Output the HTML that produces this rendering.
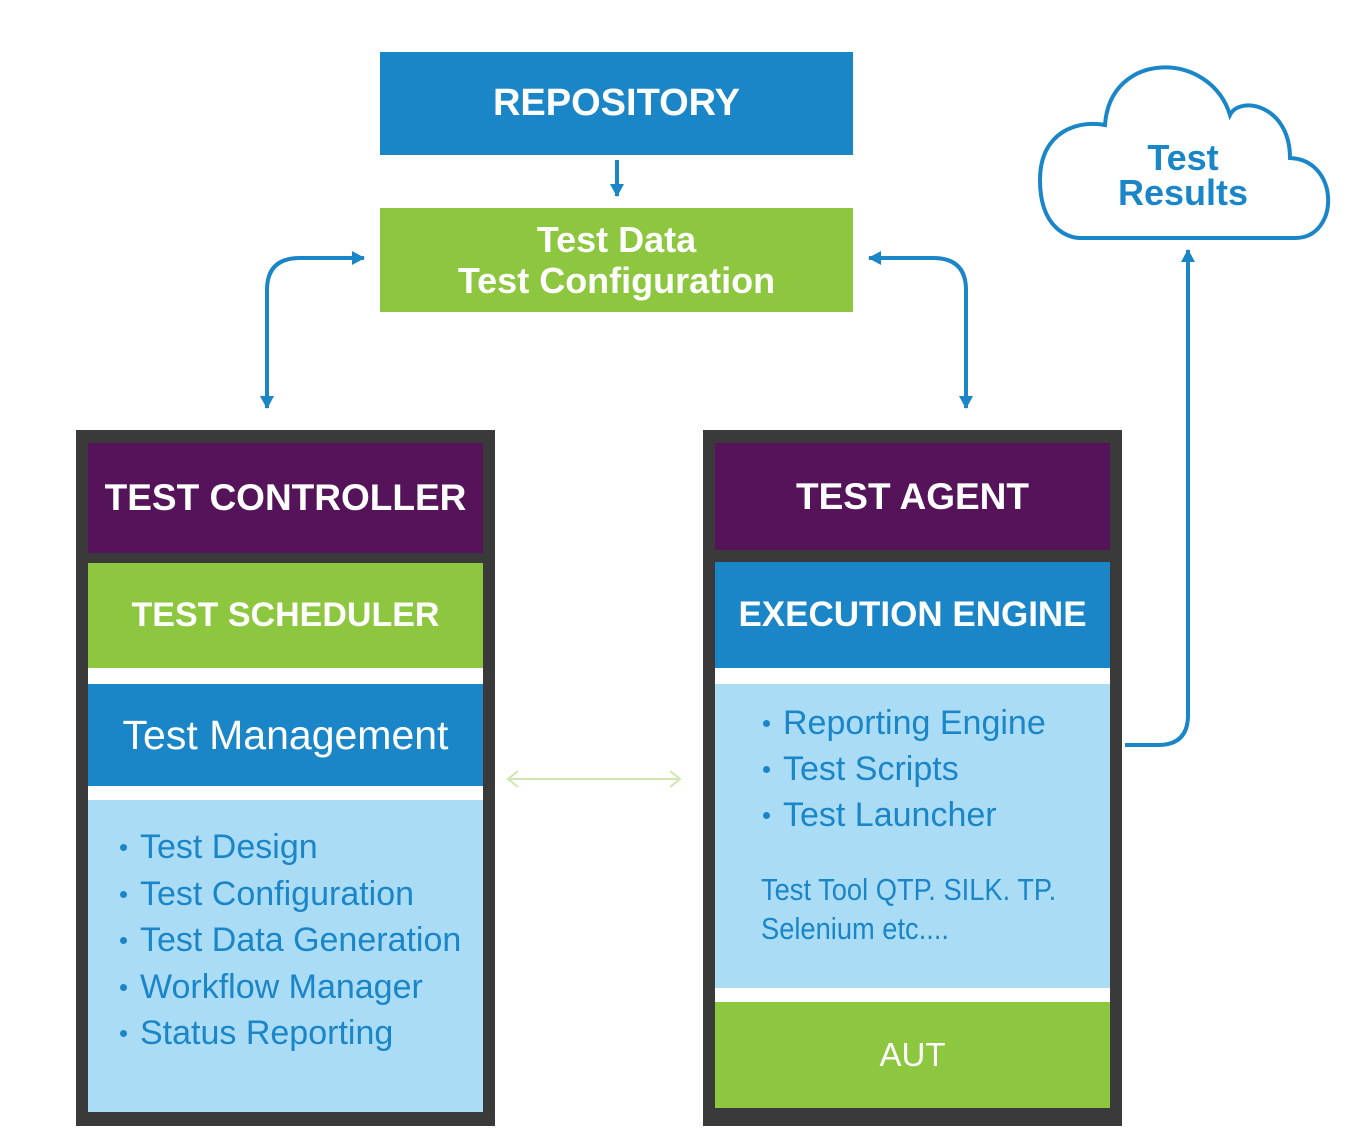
<!DOCTYPE html>
<html><head><meta charset="utf-8"><style>
body{margin:0;width:1366px;height:1146px;background:#fff;position:relative;overflow:hidden;font-family:"Liberation Sans",sans-serif}
.a{position:absolute;box-sizing:border-box}
.c{display:flex;align-items:center;justify-content:center;text-align:center;color:#fff;font-weight:bold;white-space:nowrap}
ul{margin:0;padding:0;list-style:none}
li{position:relative;padding-left:22px;color:#1a86c8;white-space:nowrap}
li:before{content:"";position:absolute;left:2px;top:50%;width:7px;height:7px;border-radius:50%;background:#1a86c8;margin-top:-3px}
</style></head><body>
<div class="a c" style="left:380px;top:52px;width:473px;height:103px;background:#1a86c8;font-size:38px">REPOSITORY</div>
<div class="a c" style="left:380px;top:208px;width:473px;height:104px;background:#8dc63f;font-size:36px;line-height:41px">Test Data<br>Test Configuration</div>

<div class="a" style="left:76px;top:430px;width:419px;height:696px;background:#3a3a3a"></div>
<div class="a c" style="left:88px;top:443px;width:395px;height:110px;background:#55145a;font-size:37px">TEST CONTROLLER</div>
<div class="a c" style="left:88px;top:563px;width:395px;height:105px;background:#8dc63f;font-size:34px">TEST SCHEDULER</div>
<div class="a" style="left:88px;top:668px;width:395px;height:444px;background:#fff"></div>
<div class="a c" style="left:88px;top:684px;width:395px;height:102px;background:#1a86c8;font-size:41px;font-weight:normal">Test Management</div>
<div class="a" style="left:88px;top:800px;width:395px;height:312px;background:#abdcf6;padding:24px 0 0 30px;font-size:34px;line-height:46.5px"><ul><li>Test Design</li><li>Test Configuration</li><li>Test Data Generation</li><li>Workflow Manager</li><li>Status Reporting</li></ul></div>

<div class="a" style="left:703px;top:430px;width:419px;height:696px;background:#3a3a3a"></div>
<div class="a c" style="left:715px;top:443px;width:395px;height:107px;background:#55145a;font-size:37px">TEST AGENT</div>
<div class="a c" style="left:715px;top:562px;width:395px;height:106px;background:#1a86c8;font-size:35px">EXECUTION ENGINE</div>
<div class="a" style="left:715px;top:668px;width:395px;height:440px;background:#fff"></div>
<div class="a" style="left:715px;top:684px;width:395px;height:304px;background:#abdcf6;padding:16px 0 0 46px;font-size:34px;line-height:46px"><ul><li>Reporting Engine</li><li>Test Scripts</li><li>Test Launcher</li></ul>
<div style="margin-top:32px;color:#1a86c8;font-size:31px;line-height:39px;transform:scaleX(0.88);transform-origin:left;width:420px">Test Tool QTP. SILK. TP.<br>Selenium etc....</div></div>
<div class="a c" style="left:715px;top:1002px;width:395px;height:106px;background:#8dc63f;font-size:33px;font-weight:normal">AUT</div>

<svg class="a" style="left:0;top:0" width="1366" height="1146">
<defs><marker id="m" markerUnits="userSpaceOnUse" markerWidth="16" markerHeight="16" refX="12" refY="7" orient="auto"><path d="M0,0L13,7L0,14z" fill="#1a86c8"/></marker></defs>
<g fill="none" stroke="#1a86c8" stroke-width="4">
<path d="M617 160V196" marker-end="url(#m)"/>
<path d="M267 404V290Q267 258 300 258H364" marker-end="url(#m)"/>
<path d="M267 300V408" marker-end="url(#m)"/>
<path d="M966 404V290Q966 258 933 258H869" marker-end="url(#m)"/>
<path d="M966 300V408" marker-end="url(#m)"/>
<path d="M1125 745H1158Q1188 745 1188 715V250" marker-end="url(#m)"/>
<path d="M1080 238H1295C1340 238 1340 160 1290 158C1290 105 1240 95 1230 115C1210 50 1110 50 1105 125C1080 120 1040 130 1040 180C1040 230 1070 238 1080 238Z"/>
</g>
<path d="M510 779H678M518 771L508 779L518 787M670 771L680 779L670 787" fill="none" stroke="#cfe6b0" stroke-width="2"/>
<text x="1183" y="170" text-anchor="middle" font-family="Liberation Sans" font-weight="bold" font-size="36" fill="#1a86c8">Test</text>
<text x="1183" y="205" text-anchor="middle" font-family="Liberation Sans" font-weight="bold" font-size="36" fill="#1a86c8">Results</text>
</svg>
</body></html>
